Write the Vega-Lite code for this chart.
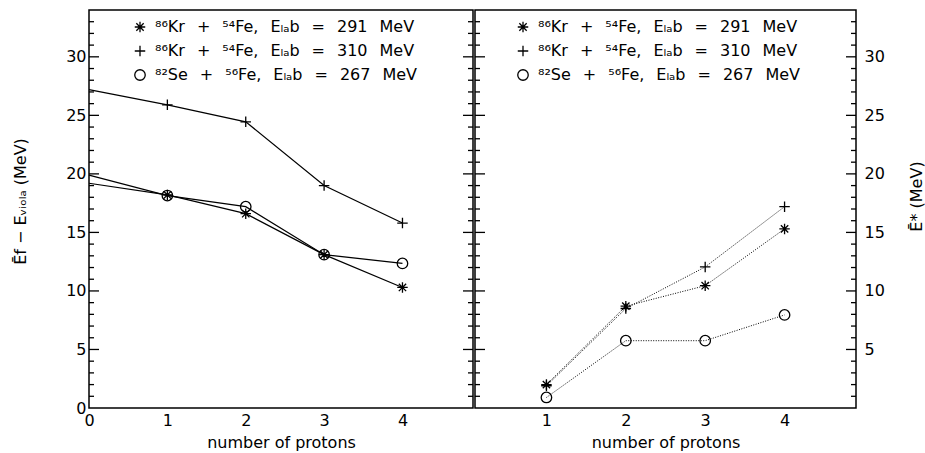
{
  "$schema": "https://vega.github.io/schema/vega-lite/v6.json",
  "padding": {"left": 11, "top": 9, "right": 0, "bottom": 0},
  "spacing": -4,
  "config": {
    "font": "DejaVu Sans",
    "view": {"stroke": "black", "strokeWidth": 1.5},
    "axis": {"domainColor": "black", "domainWidth": 1.5, "labelColor": "black", "titleColor": "black", "labelFont": "DejaVu Sans", "titleFont": "DejaVu Sans", "labelFontSize": 16, "titleFontSize": 16, "titleFontWeight": "normal", "grid": false},
    "legend": {"title": null, "labelFont": "DejaVu Sans", "labelFontSize": 16, "labelColor": "black", "labelLimit": 0, "symbolStrokeColor": "black", "symbolFillColor": "transparent", "symbolStrokeWidth": 1.3, "symbolSize": 110, "rowPadding": 8, "labelOffset": 7, "padding": 0, "orient": "none"}
  },
  "datasets": {
    "left": [
      {"reaction": "⁸⁶Kr\u2002\u2005+\u2002\u2005⁵⁴Fe,\u2002\u2005Eₗₐb\u2002\u2005=\u2002\u2005291\u2002\u2005MeV", "n": 0, "e": 19.2},
      {"reaction": "⁸⁶Kr\u2002\u2005+\u2002\u2005⁵⁴Fe,\u2002\u2005Eₗₐb\u2002\u2005=\u2002\u2005291\u2002\u2005MeV", "n": 1, "e": 18.2},
      {"reaction": "⁸⁶Kr\u2002\u2005+\u2002\u2005⁵⁴Fe,\u2002\u2005Eₗₐb\u2002\u2005=\u2002\u2005291\u2002\u2005MeV", "n": 2, "e": 16.6},
      {"reaction": "⁸⁶Kr\u2002\u2005+\u2002\u2005⁵⁴Fe,\u2002\u2005Eₗₐb\u2002\u2005=\u2002\u2005291\u2002\u2005MeV", "n": 3, "e": 13.1},
      {"reaction": "⁸⁶Kr\u2002\u2005+\u2002\u2005⁵⁴Fe,\u2002\u2005Eₗₐb\u2002\u2005=\u2002\u2005291\u2002\u2005MeV", "n": 4, "e": 10.3},
      {"reaction": "⁸⁶Kr\u2002\u2005+\u2002\u2005⁵⁴Fe,\u2002\u2005Eₗₐb\u2002\u2005=\u2002\u2005310\u2002\u2005MeV", "n": 0, "e": 27.2},
      {"reaction": "⁸⁶Kr\u2002\u2005+\u2002\u2005⁵⁴Fe,\u2002\u2005Eₗₐb\u2002\u2005=\u2002\u2005310\u2002\u2005MeV", "n": 1, "e": 25.9},
      {"reaction": "⁸⁶Kr\u2002\u2005+\u2002\u2005⁵⁴Fe,\u2002\u2005Eₗₐb\u2002\u2005=\u2002\u2005310\u2002\u2005MeV", "n": 2, "e": 24.45},
      {"reaction": "⁸⁶Kr\u2002\u2005+\u2002\u2005⁵⁴Fe,\u2002\u2005Eₗₐb\u2002\u2005=\u2002\u2005310\u2002\u2005MeV", "n": 3, "e": 19.0},
      {"reaction": "⁸⁶Kr\u2002\u2005+\u2002\u2005⁵⁴Fe,\u2002\u2005Eₗₐb\u2002\u2005=\u2002\u2005310\u2002\u2005MeV", "n": 4, "e": 15.8},
      {"reaction": "⁸²Se\u2002\u2005+\u2002\u2005⁵⁶Fe,\u2002\u2005Eₗₐb\u2002\u2005=\u2002\u2005267\u2002\u2005MeV", "n": 0, "e": 19.9},
      {"reaction": "⁸²Se\u2002\u2005+\u2002\u2005⁵⁶Fe,\u2002\u2005Eₗₐb\u2002\u2005=\u2002\u2005267\u2002\u2005MeV", "n": 1, "e": 18.15},
      {"reaction": "⁸²Se\u2002\u2005+\u2002\u2005⁵⁶Fe,\u2002\u2005Eₗₐb\u2002\u2005=\u2002\u2005267\u2002\u2005MeV", "n": 2, "e": 17.2},
      {"reaction": "⁸²Se\u2002\u2005+\u2002\u2005⁵⁶Fe,\u2002\u2005Eₗₐb\u2002\u2005=\u2002\u2005267\u2002\u2005MeV", "n": 3, "e": 13.1},
      {"reaction": "⁸²Se\u2002\u2005+\u2002\u2005⁵⁶Fe,\u2002\u2005Eₗₐb\u2002\u2005=\u2002\u2005267\u2002\u2005MeV", "n": 4, "e": 12.35}
    ],
    "right": [
      {"reaction": "⁸⁶Kr\u2002\u2005+\u2002\u2005⁵⁴Fe,\u2002\u2005Eₗₐb\u2002\u2005=\u2002\u2005291\u2002\u2005MeV", "n": 1, "e": 2.0},
      {"reaction": "⁸⁶Kr\u2002\u2005+\u2002\u2005⁵⁴Fe,\u2002\u2005Eₗₐb\u2002\u2005=\u2002\u2005291\u2002\u2005MeV", "n": 2, "e": 8.7},
      {"reaction": "⁸⁶Kr\u2002\u2005+\u2002\u2005⁵⁴Fe,\u2002\u2005Eₗₐb\u2002\u2005=\u2002\u2005291\u2002\u2005MeV", "n": 3, "e": 10.45},
      {"reaction": "⁸⁶Kr\u2002\u2005+\u2002\u2005⁵⁴Fe,\u2002\u2005Eₗₐb\u2002\u2005=\u2002\u2005291\u2002\u2005MeV", "n": 4, "e": 15.3},
      {"reaction": "⁸⁶Kr\u2002\u2005+\u2002\u2005⁵⁴Fe,\u2002\u2005Eₗₐb\u2002\u2005=\u2002\u2005310\u2002\u2005MeV", "n": 1, "e": 1.9},
      {"reaction": "⁸⁶Kr\u2002\u2005+\u2002\u2005⁵⁴Fe,\u2002\u2005Eₗₐb\u2002\u2005=\u2002\u2005310\u2002\u2005MeV", "n": 2, "e": 8.5},
      {"reaction": "⁸⁶Kr\u2002\u2005+\u2002\u2005⁵⁴Fe,\u2002\u2005Eₗₐb\u2002\u2005=\u2002\u2005310\u2002\u2005MeV", "n": 3, "e": 12.05},
      {"reaction": "⁸⁶Kr\u2002\u2005+\u2002\u2005⁵⁴Fe,\u2002\u2005Eₗₐb\u2002\u2005=\u2002\u2005310\u2002\u2005MeV", "n": 4, "e": 17.2},
      {"reaction": "⁸²Se\u2002\u2005+\u2002\u2005⁵⁶Fe,\u2002\u2005Eₗₐb\u2002\u2005=\u2002\u2005267\u2002\u2005MeV", "n": 1, "e": 0.9},
      {"reaction": "⁸²Se\u2002\u2005+\u2002\u2005⁵⁶Fe,\u2002\u2005Eₗₐb\u2002\u2005=\u2002\u2005267\u2002\u2005MeV", "n": 2, "e": 5.75},
      {"reaction": "⁸²Se\u2002\u2005+\u2002\u2005⁵⁶Fe,\u2002\u2005Eₗₐb\u2002\u2005=\u2002\u2005267\u2002\u2005MeV", "n": 3, "e": 5.75},
      {"reaction": "⁸²Se\u2002\u2005+\u2002\u2005⁵⁶Fe,\u2002\u2005Eₗₐb\u2002\u2005=\u2002\u2005267\u2002\u2005MeV", "n": 4, "e": 7.95}
    ],
    "tickvals": [
      {"v": 1}, {"v": 2}, {"v": 3}, {"v": 4}, {"v": 5}, {"v": 6}, {"v": 7}, {"v": 8}, {"v": 9}, {"v": 10},
      {"v": 11}, {"v": 12}, {"v": 13}, {"v": 14}, {"v": 15}, {"v": 16}, {"v": 17}, {"v": 18}, {"v": 19}, {"v": 20},
      {"v": 21}, {"v": 22}, {"v": 23}, {"v": 24}, {"v": 25}, {"v": 26}, {"v": 27}, {"v": 28}, {"v": 29}, {"v": 30},
      {"v": 31}, {"v": 32}, {"v": 33}
    ]
  },
  "resolve": {"legend": {"shape": "independent"}},
  "hconcat": [
    {
      "width": 384,
      "height": 398,
      "layer": [
        {
          "data": {"name": "left"},
          "mark": {"type": "line", "color": "black", "strokeWidth": 1.2},
          "encoding": {
            "x": {"field": "n", "type": "quantitative", "scale": {"domain": [0, 4.9], "nice": false, "zero": false},
                  "axis": {"values": [0, 1, 2, 3, 4], "format": "d", "ticks": false, "domain": false, "labelPadding": 4, "labelFlush": false, "title": "number of protons", "titlePadding": 6}},
            "y": {"field": "e", "type": "quantitative", "scale": {"domain": [0, 34], "nice": false},
                  "axis": {"orient": "left", "values": [0, 5, 10, 15, 20, 25, 30], "ticks": false, "tickSize": 0, "domain": false,
                           "labelPadding": 3, "title": "Ēf − Eᵥᵢₒₗₐ (MeV)", "titlePadding": 37, "titleY": 191}},
            "detail": {"field": "reaction"}
          }
        },
        {
          "data": {"name": "tickvals"},
          "transform": [{"filter": "datum.v % 5 !== 0"}],
          "mark": {"type": "rule", "color": "black", "strokeWidth": 1.3},
          "encoding": {"x": {"datum": 0}, "x2": {"datum": 0.064}, "y": {"field": "v", "type": "quantitative"}}
        },
        {
          "data": {"name": "tickvals"},
          "transform": [{"filter": "datum.v % 5 === 0"}],
          "mark": {"type": "rule", "color": "black", "strokeWidth": 1.3},
          "encoding": {"x": {"datum": 0}, "x2": {"datum": 0.128}, "y": {"field": "v", "type": "quantitative"}}
        },
        {
          "data": {"name": "tickvals"},
          "transform": [{"filter": "datum.v % 5 !== 0"}],
          "mark": {"type": "rule", "color": "black", "strokeWidth": 1.3},
          "encoding": {"x": {"datum": 4.836}, "x2": {"datum": 4.9}, "y": {"field": "v", "type": "quantitative"}}
        },
        {
          "data": {"name": "tickvals"},
          "transform": [{"filter": "datum.v % 5 === 0"}],
          "mark": {"type": "rule", "color": "black", "strokeWidth": 1.3},
          "encoding": {"x": {"datum": 4.772}, "x2": {"datum": 4.9}, "y": {"field": "v", "type": "quantitative"}}
        },
        {
          "data": {"name": "left"},
          "transform": [{"filter": "datum.n > 0"}],
          "mark": {"type": "point", "color": "black", "filled": false, "strokeWidth": 1.3, "size": 110, "opacity": 1},
          "encoding": {
            "x": {"field": "n", "type": "quantitative"},
            "y": {"field": "e", "type": "quantitative"},
            "shape": {"field": "reaction", "type": "nominal",
                      "scale": {"domain": ["⁸⁶Kr\u2002\u2005+\u2002\u2005⁵⁴Fe,\u2002\u2005Eₗₐb\u2002\u2005=\u2002\u2005291\u2002\u2005MeV", "⁸⁶Kr\u2002\u2005+\u2002\u2005⁵⁴Fe,\u2002\u2005Eₗₐb\u2002\u2005=\u2002\u2005310\u2002\u2005MeV", "⁸²Se\u2002\u2005+\u2002\u2005⁵⁶Fe,\u2002\u2005Eₗₐb\u2002\u2005=\u2002\u2005267\u2002\u2005MeV"],
                                "range": ["M-1,0L1,0M0,-1L0,1M-0.7,-0.7L0.7,0.7M-0.7,0.7L0.7,-0.7", "M-1,0L1,0M0,-1L0,1", "circle"]},
                      "legend": {"legendX": 43, "legendY": 9}}
          }
        }
      ]
    },
    {
      "width": 381,
      "height": 398,
      "layer": [
        {
          "data": {"name": "right"},
          "mark": {"type": "line", "color": "black", "strokeWidth": 1, "strokeDash": [1, 1.5]},
          "encoding": {
            "x": {"field": "n", "type": "quantitative", "scale": {"domain": [0.1, 4.9], "nice": false, "zero": false},
                  "axis": {"values": [1, 2, 3, 4], "format": "d", "ticks": false, "domain": false, "labelPadding": 4, "labelFlush": false, "title": "number of protons", "titlePadding": 6}},
            "y": {"field": "e", "type": "quantitative", "scale": {"domain": [0, 34], "nice": false},
                  "axis": {"orient": "right", "values": [5, 10, 15, 20, 25, 30], "ticks": false, "tickSize": 0, "domain": false,
                           "labelPadding": 8, "title": "Ē* (MeV)", "titleAngle": 270, "titlePadding": 40, "titleY": 186}},
            "detail": {"field": "reaction"}
          }
        },
        {
          "data": {"name": "tickvals"},
          "transform": [{"filter": "datum.v % 5 !== 0"}],
          "mark": {"type": "rule", "color": "black", "strokeWidth": 1.3},
          "encoding": {"x": {"datum": 0.1}, "x2": {"datum": 0.163}, "y": {"field": "v", "type": "quantitative"}}
        },
        {
          "data": {"name": "tickvals"},
          "transform": [{"filter": "datum.v % 5 === 0"}],
          "mark": {"type": "rule", "color": "black", "strokeWidth": 1.3},
          "encoding": {"x": {"datum": 0.1}, "x2": {"datum": 0.226}, "y": {"field": "v", "type": "quantitative"}}
        },
        {
          "data": {"name": "tickvals"},
          "transform": [{"filter": "datum.v % 5 !== 0"}],
          "mark": {"type": "rule", "color": "black", "strokeWidth": 1.3},
          "encoding": {"x": {"datum": 4.837}, "x2": {"datum": 4.9}, "y": {"field": "v", "type": "quantitative"}}
        },
        {
          "data": {"name": "tickvals"},
          "transform": [{"filter": "datum.v % 5 === 0"}],
          "mark": {"type": "rule", "color": "black", "strokeWidth": 1.3},
          "encoding": {"x": {"datum": 4.774}, "x2": {"datum": 4.9}, "y": {"field": "v", "type": "quantitative"}}
        },
        {
          "data": {"name": "right"},
          "mark": {"type": "point", "color": "black", "filled": false, "strokeWidth": 1.3, "size": 110, "opacity": 1},
          "encoding": {
            "x": {"field": "n", "type": "quantitative"},
            "y": {"field": "e", "type": "quantitative"},
            "shape": {"field": "reaction", "type": "nominal",
                      "scale": {"domain": ["⁸⁶Kr\u2002\u2005+\u2002\u2005⁵⁴Fe,\u2002\u2005Eₗₐb\u2002\u2005=\u2002\u2005291\u2002\u2005MeV", "⁸⁶Kr\u2002\u2005+\u2002\u2005⁵⁴Fe,\u2002\u2005Eₗₐb\u2002\u2005=\u2002\u2005310\u2002\u2005MeV", "⁸²Se\u2002\u2005+\u2002\u2005⁵⁶Fe,\u2002\u2005Eₗₐb\u2002\u2005=\u2002\u2005267\u2002\u2005MeV"],
                                "range": ["M-1,0L1,0M0,-1L0,1M-0.7,-0.7L0.7,0.7M-0.7,0.7L0.7,-0.7", "M-1,0L1,0M0,-1L0,1", "circle"]},
                      "legend": {"legendX": 40, "legendY": 9}}
          }
        }
      ]
    }
  ]
}
